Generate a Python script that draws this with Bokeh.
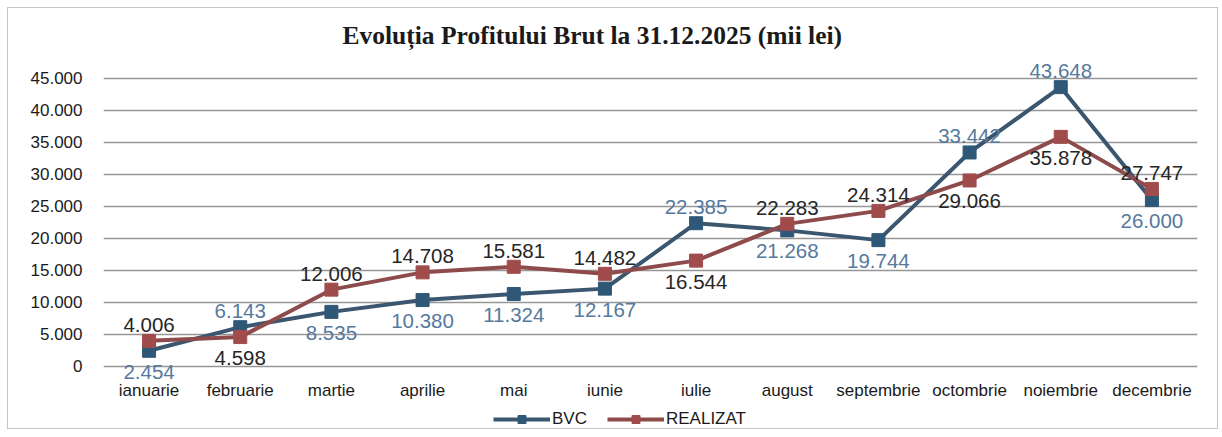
from bokeh.plotting import figure
from bokeh.models import (ColumnDataSource, LabelSet, FactorRange, Range1d,
                          FixedTicker, Legend, LegendItem)
from bokeh.core.properties import value
from bokeh.embed import file_html
from bokeh.resources import INLINE

months = ["ianuarie", "februarie", "martie", "aprilie", "mai", "iunie",
          "iulie", "august", "septembrie", "octombrie", "noiembrie", "decembrie"]
bvc = [2454, 6143, 8535, 10380, 11324, 12167, 22385, 21268, 19744, 33442, 43648, 26000]
realizat = [4006, 4598, 12006, 14708, 15581, 14482, 16544, 22283, 24314, 29066, 35878, 27747]
yticks = [0, 5000, 10000, 15000, 20000, 25000, 30000, 35000, 40000, 45000]
ytick_labels = ["0", "5.000", "10.000", "15.000", "20.000", "25.000",
                "30.000", "35.000", "40.000", "45.000"]
title_text = "Evoluția Profitului Brut la 31.12.2025 (mii lei)"

SANS = "Liberation Sans"
BVC_LINE = "#3b566f"
BVC_MARK = "#2f5878"
BVC_TEXT = "#56799e"
REA_LINE = "#8e4b4b"
REA_MARK = "#a04c4c"
REA_TEXT = "#262626"


def fmt(v):
    return f"{v:,}".replace(",", ".")


# the frame reaches down to the bottom edge so that the legend and the
# lowest data labels are not clipped; the x axis is pinned at y = 0
p = figure(x_range=FactorRange(factors=months, range_padding=0),
           y_range=Range1d(-10000, 49060),
           width=1211, height=422,
           output_backend="svg", toolbar_location=None,
           min_border_left=95, min_border_right=22,
           min_border_top=44, min_border_bottom=0,
           outline_line_color=None)
p.styles = {"border": "1px solid #c4c4c4", "margin-left": "7px", "margin-top": "7px"}

p.title.text = title_text
p.title.text_font = "Liberation Serif"
p.title.text_font_size = "25.5px"
p.title.text_font_style = "bold"
p.title.text_color = "#1a1a1a"
p.title.align = "left"
p.title.offset = 239
p.title.standoff = 5

for ax in (p.xaxis, p.yaxis):
    ax.axis_line_color = None
    ax.major_tick_line_color = None
    ax.minor_tick_line_color = None
    ax.major_label_text_font = SANS
    ax.major_label_text_font_size = "17px"
    ax.major_label_text_color = "#1a1a1a"
p.xaxis.fixed_location = 0
p.xaxis.major_tick_out = 0
p.xaxis.major_label_standoff = 15
p.yaxis.major_label_standoff = 15
p.yaxis.ticker = FixedTicker(ticks=yticks)
p.yaxis.major_label_overrides = {t: l for t, l in zip(yticks, ytick_labels)}

p.xgrid.grid_line_color = None
p.ygrid.grid_line_color = "#969696"
p.ygrid.grid_line_width = 1.6

l1 = p.line(months, bvc, line_width=4, line_color=BVC_LINE)
s1 = p.scatter(months, bvc, marker="square", size=13, fill_color=BVC_MARK, line_color=BVC_MARK)
l2 = p.line(months, realizat, line_width=4, line_color=REA_LINE)
s2 = p.scatter(months, realizat, marker="square", size=13, fill_color=REA_MARK, line_color=REA_MARK)


# data labels: higher value above its point, lower value below
def add_labels(vals, other, color):
    up = [i for i in range(len(vals)) if vals[i] >= other[i]]
    dn = [i for i in range(len(vals)) if vals[i] < other[i]]
    for idx, off in ((up, 16), (dn, -21)):
        src = ColumnDataSource(dict(x=[months[i] for i in idx],
                                    y=[vals[i] for i in idx],
                                    t=[fmt(vals[i]) for i in idx]))
        p.add_layout(LabelSet(x="x", y="y", text="t", source=src,
                              y_offset=off, text_align="center",
                              text_baseline="middle", text_font=value(SANS),
                              text_font_size=value("20.5px"),
                              text_color=color))


add_labels(bvc, realizat, BVC_TEXT)
add_labels(realizat, bvc, REA_TEXT)

legend = Legend(items=[LegendItem(label="BVC", renderers=[l1, s1]),
                       LegendItem(label="REALIZAT", renderers=[l2, s2])],
                orientation="horizontal", location=(390, 1),
                glyph_width=57, glyph_height=20, label_height=20,
                label_standoff=2, spacing=20, padding=0, margin=0,
                border_line_color=None, background_fill_alpha=0,
                label_text_font=SANS, label_text_font_size="17px",
                label_text_color="#1a1a1a")
p.add_layout(legend)

open("out.html", "w").write(file_html(p, INLINE))
